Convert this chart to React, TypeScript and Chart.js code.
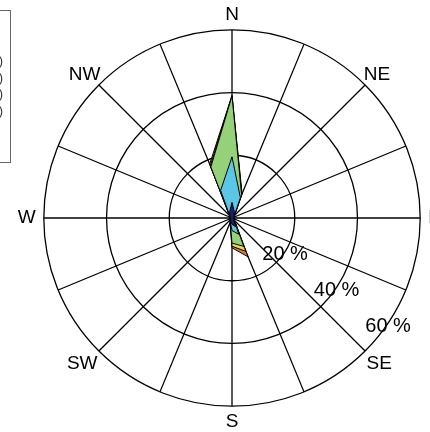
import { useEffect, useRef } from "react";
import { Chart, registerables } from "chart.js";

Chart.register(...registerables);

// 16 compass directions, clockwise from North
const directions = ["N", "NNE", "NE", "ENE", "E", "ESE", "SE", "SSE", "S", "SSW", "SW", "WSW", "W", "WNW", "NW", "NNW"];
const directionLabels = ["N", "", "NE", "", "E", "", "SE", "", "S", "", "SW", "", "W", "", "NW", ""];

// radial rings and their labels
const ringTicks = [20, 40, 60];
const ringLabels = ["20 %", "40 %", "60 %"];

// speed bins (legend) and colours
const speedBins = ["[0 , 2)", "[2 , 4)", "[4 , 6)", "[6 , 8)", "[8 , 10)"];
const binColors = ["#1e1f78", "#5bc6e6", "#95d179", "#e6dc5a", "#e5782e"];

// cumulative frequency (%) reached at the top of each speed bin, per direction
const upToBin1 = [5.0, 2.0, 0.8, 0.5, 0.5, 0.5, 0.8, 3.0, 2.0, 1.2, 0.6, 0.5, 0.5, 0.5, 0.8, 2.0];
const upToBin2 = [19.5, 7.0, 1.0, 0.6, 0.6, 0.6, 1.0, 5.6, 4.0, 1.4, 0.7, 0.6, 0.6, 0.6, 1.0, 9.5];
const upToBin3 = [38.9, 8.0, 1.1, 0.7, 0.7, 0.7, 1.1, 9.8, 8.0, 1.5, 0.8, 0.7, 0.7, 0.7, 1.1, 17.6];
const upToBin4 = [39.0, 8.2, 1.15, 0.75, 0.75, 0.75, 1.15, 11.5, 9.0, 1.55, 0.85, 0.75, 0.75, 0.75, 1.15, 18.0];
const upToBin5 = [39.1, 8.4, 1.2, 0.8, 0.8, 0.8, 1.2, 13.4, 9.5, 1.6, 0.9, 0.8, 0.8, 0.8, 1.2, 18.6];

const cumulative = [upToBin1, upToBin2, upToBin3, upToBin4, upToBin5];

const FONT = "'Liberation Sans', Arial, Helvetica, sans-serif";

export default function App() {
  const ref = useRef<HTMLCanvasElement>(null);

  useEffect(() => {
    if (!ref.current) return;
    const pctPlugin = {
      id: "pctLabels",
      afterDraw(chart: any) {
        const scale = chart.scales.r;
        const ctx = chart.ctx;
        ctx.save();
        ctx.font = `20px ${FONT}`;
        ctx.fillStyle = "#000";
        ctx.textAlign = "center";
        ctx.textBaseline = "middle";
        ringTicks.forEach((v, i) => {
          const p = scale.getPointPositionForValue(5.547, v + 0.6);
          ctx.fillText(ringLabels[i], p.x, p.y);
        });
        ctx.restore();
      },
    };

    const labelPadding = (c: any) => {
      const i = c.index;
      if (i === 2 || i === 14) return -2;
      if (i === 6 || i === 10) return 2;
      if (i % 8 === 0) return 4;
      return 8;
    };

    const chart = new Chart(ref.current, {
      type: "radar",
      data: {
        labels: directionLabels,
        datasets: cumulative.map((vals, i) => ({
          label: speedBins[i],
          data: vals,
          backgroundColor: binColors[i],
          borderColor: "#000",
          borderWidth: 1,
          fill: "origin",
          pointRadius: 0,
          tension: 0,
        })),
      },
      options: {
        responsive: false,
        animation: false,
        layout: { padding: 0 },
        plugins: {
          legend: { display: false },
          tooltip: { enabled: false },
        },
        scales: {
          r: {
            min: 0,
            max: 60,
            ticks: { display: false, stepSize: 20 },
            grid: { circular: true, color: "#000", lineWidth: 1.3 },
            angleLines: { color: "#000", lineWidth: 1.3 },
            pointLabels: {
              color: "#000",
              font: { size: 19, family: FONT },
              padding: labelPadding,
            },
          },
        },
      },
      plugins: [pctPlugin],
    } as any);
    return () => chart.destroy();
  }, []);

  return (
    <div style={{ position: "fixed", left: 0, top: 0, width: 430, height: 432, overflow: "hidden", background: "#fff" }}>
      <canvas
        ref={ref}
        width={460}
        height={430}
        style={{ position: "absolute", left: 0, top: 4, width: 460, height: 430 }}
      />
      <div
        style={{
          position: "absolute",
          left: -100,
          top: 10,
          width: 111,
          height: 153,
          border: "1px solid #666",
          boxSizing: "border-box",
          fontFamily: FONT,
          fontSize: 13,
          lineHeight: "16.7px",
          color: "#333",
          textAlign: "right",
          paddingTop: 42,
          paddingRight: 7,
        }}
      >
        {speedBins.slice(0, 4).map((b) => (
          <div key={b}>{b}</div>
        ))}
      </div>
    </div>
  );
}
